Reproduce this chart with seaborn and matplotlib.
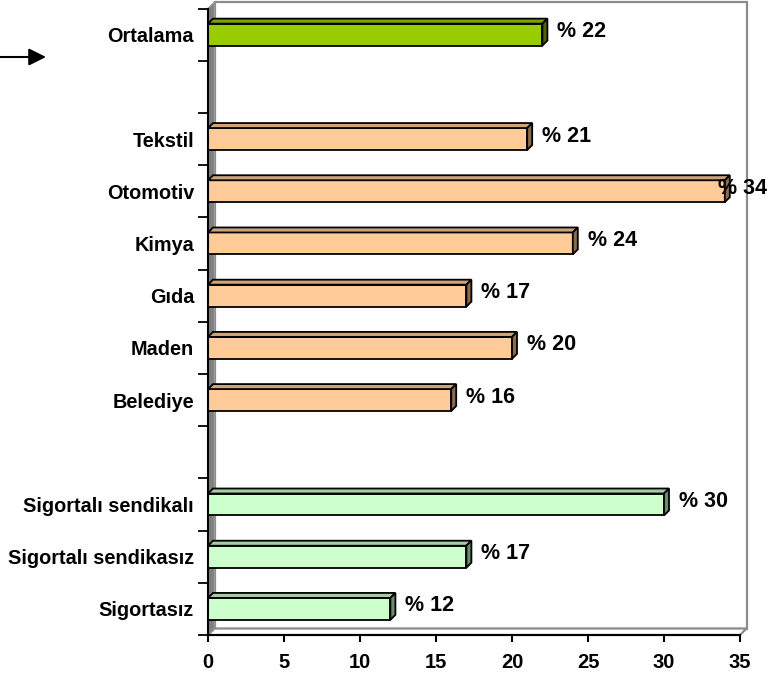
import numpy as np
import pandas as pd
import matplotlib
matplotlib.use("Agg")
import matplotlib.pyplot as plt
from matplotlib.patches import Polygon, Rectangle, FancyArrowPatch
import seaborn as sns

# ---- data -------------------------------------------------------------
categories = ["Ortalama", "Tekstil", "Otomotiv", "Kimya", "Gıda", "Maden",
              "Belediye", "Sigortalı sendikalı", "Sigortalı sendikasız",
              "Sigortasız"]
values = [22, 21, 34, 24, 17, 20, 16, 30, 17, 12]
groups = ["avg", "sector", "sector", "sector", "sector", "sector", "sector",
          "insured", "insured", "insured"]
# row layout top to bottom; empty slots separate the groups
slot_order = ["Ortalama", "", "Tekstil", "Otomotiv", "Kimya", "Gıda", "Maden",
              "Belediye", " ", "Sigortalı sendikalı", "Sigortalı sendikasız",
              "Sigortasız"]
x_ticks = [0, 5, 10, 15, 20, 25, 30, 35]

front_col = {"avg": "#99CC00", "sector": "#FFCC99", "insured": "#CCFFCC"}
top_col = {"avg": "#7AA300", "sector": "#CCA37A", "insured": "#A3CCA3"}
side_col = {"avg": "#4D6600", "sector": "#8C6A4D", "insured": "#6B8C6B"}

df = pd.DataFrame({"category": categories, "value": values, "group": groups})
palette = {c: front_col[g] for c, g in zip(categories, groups)}
group_of = dict(zip(categories, groups))

# ---- figure -----------------------------------------------------------
sns.set_style("white")
plt.rcParams["font.family"] = ["Liberation Sans", "DejaVu Sans"]
plt.rcParams["font.weight"] = "bold"
for k in ["text.color", "axes.labelcolor", "xtick.color", "ytick.color"]:
    plt.rcParams[k] = "black"

W, H = 784, 682
fig = plt.figure(figsize=(W / 100, H / 100), dpi=100)
ax_l, ax_r, ax_t, ax_b = 208, 740, 8.5, 635
ax = fig.add_axes([ax_l / W, 1 - ax_b / H, (ax_r - ax_l) / W, (ax_b - ax_t) / H])
ax.set_facecolor("none")

sns.barplot(data=df, x="value", y="category", hue="category", order=slot_order,
            hue_order=categories, palette=palette, orient="h", width=0.42,
            saturation=1, legend=False, edgecolor="black", linewidth=1.3,
            ax=ax, zorder=3)

ax.set_xlim(0, 35)
ax.set_ylim(len(slot_order) - 0.5, -0.5)

# pixel -> data scale
px_x = 35 / (ax_r - ax_l)
px_y = len(slot_order) / (ax_b - ax_t)

# back wall, side wall and floor of the 3-D box
d = 6.5
dxw, dyw = d * px_x, -d * px_y
y_top, y_bot = -0.5, len(slot_order) - 0.5
ax.add_patch(Rectangle((dxw, y_top + dyw), 35, y_bot - y_top, fill=False,
                       edgecolor="#8c8c8c", lw=1.6, zorder=0.5, clip_on=False))
ax.add_patch(Polygon([(0, y_bot), (0, y_top), (dxw, y_top + dyw), (dxw, y_bot + dyw)],
                     closed=True, facecolor="#808080", edgecolor="#9a9a9a", lw=1.0,
                     zorder=0.6, clip_on=False))
ax.add_patch(Polygon([(0, y_bot), (35, y_bot), (35 + dxw, y_bot + dyw), (dxw, y_bot + dyw)],
                     closed=True, facecolor="white", edgecolor="#8c8c8c", lw=1.6,
                     zorder=0.6, clip_on=False))

# 3-D top and side faces of each bar
db = 5
dxb, dyb = db * px_x, -db * px_y
for p in list(ax.patches):
    if not isinstance(p, Rectangle) or p.get_zorder() != 3:
        continue
    w = p.get_width()
    if not np.isfinite(w) or w <= 0:
        continue
    x0, y0, h = p.get_x(), p.get_y(), p.get_height()
    x1 = x0 + w
    yt, yb = min(y0, y0 + h), max(y0, y0 + h)
    name = slot_order[int(round((yt + yb) / 2))]
    g = group_of[name]
    ax.add_patch(Polygon([(x0, yt), (x1, yt), (x1 + dxb, yt + dyb), (x0 + dxb, yt + dyb)],
                         closed=True, facecolor=top_col[g], edgecolor="black",
                         lw=1.3, zorder=3, clip_on=False))
    ax.add_patch(Polygon([(x1, yt), (x1 + dxb, yt + dyb), (x1 + dxb, yb + dyb), (x1, yb)],
                         closed=True, facecolor=side_col[g], edgecolor="black",
                         lw=1.3, zorder=3, clip_on=False))

# value labels
labels = []
for c, v in zip(categories, values):
    yi = slot_order.index(c)
    t = ax.annotate(f"% {v}", xy=(v, yi), xytext=(15, 3), textcoords="offset pixels",
                    ha="left", va="center", fontsize=15.5, fontweight="bold",
                    color="black", zorder=5, annotation_clip=False)
    labels.append(t)

# axes, ticks and tick labels
for s in ["top", "right"]:
    ax.spines[s].set_visible(False)
for s in ["left", "bottom"]:
    ax.spines[s].set_color("black")
    ax.spines[s].set_linewidth(1.5)
    ax.spines[s].set_zorder(4)

ax.set_xticks(x_ticks)
ax.set_xticklabels([str(t) for t in x_ticks], fontsize=14.5, fontweight="bold")
ax.tick_params(axis="x", bottom=True, direction="out", length=5, width=1.5,
               color="black", pad=8, labelcolor="black")

bounds = np.arange(-0.5, len(slot_order), 1.0)
ax.set_yticks(bounds)
ax.set_yticklabels([])
ax.tick_params(axis="y", which="major", left=True, direction="out", length=7.5,
               width=1.3, color="black")
ax.set_yticks(np.arange(len(slot_order)), minor=True)
ax.set_yticklabels([s.strip() for s in slot_order], minor=True, fontsize=14.3,
                   fontweight="bold")
ax.tick_params(axis="y", which="minor", left=True, length=0, pad=10,
               labelcolor="black")
ax.set_xlabel("")
ax.set_ylabel("")

# arrow pointing at the average row
ya = 1 - 57 / H
fig.add_artist(FancyArrowPatch(
    (0 / W, ya), (46 / W, ya), transform=fig.transFigure, arrowstyle="-|>",
    mutation_scale=26, color="black", lw=1.5, shrinkA=0, shrinkB=0))

# keep labels inside the figure
fig.canvas.draw()
renderer = fig.canvas.get_renderer()
limit = 767
for t in labels:
    bb = t.get_window_extent(renderer)
    if bb.x1 > limit:
        ox, oy = t.xyann
        t.xyann = (ox - (bb.x1 - limit), oy)

fig.savefig("out.png", dpi=100)
